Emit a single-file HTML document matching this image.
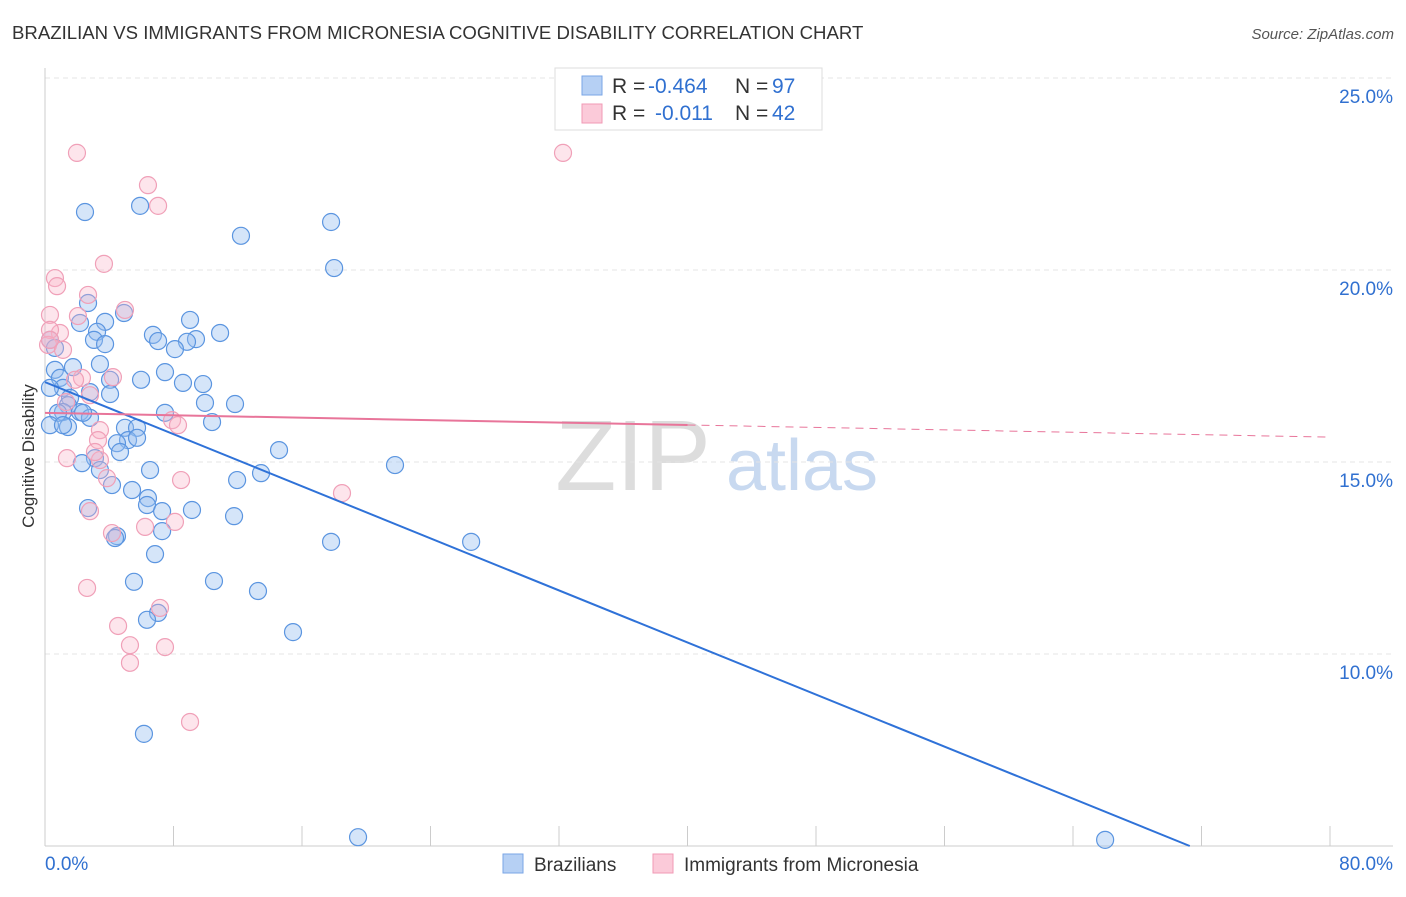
<!DOCTYPE html>
<html><head><meta charset="utf-8"><style>
body{margin:0;background:#fff;font-family:"Liberation Sans",sans-serif;}
svg text{font-family:"Liberation Sans",sans-serif;}
</style></head><body>
<svg id="chart" width="1406" height="892" viewBox="0 0 1406 892" xmlns="http://www.w3.org/2000/svg">
<text x="12" y="39" font-size="18.6" fill="#333">BRAZILIAN VS IMMIGRANTS FROM MICRONESIA COGNITIVE DISABILITY CORRELATION CHART</text>
<text x="1394" y="39" font-size="15" fill="#555" text-anchor="end" font-style="italic">Source: ZipAtlas.com</text>
<g>
<text x="633" y="490" font-size="100" fill="#ddd" text-anchor="middle" font-family="Liberation Serif, serif">ZIP</text>
<text x="802" y="490" font-size="72" fill="#c8d9f0" text-anchor="middle">atlas</text>
</g>
<g id="grid"></g>
<g id="axes"></g>
<g id="pts"></g>
<g id="lines"></g>
<text transform="translate(34,456) rotate(-90)" font-size="17" fill="#333" text-anchor="middle">Cognitive Disability</text>
<g>
<rect x="555" y="68" width="267" height="62" fill="#fff" stroke="#ddd"/>
<rect x="582" y="76" width="20" height="19" fill="#b6d0f4" stroke="#7aa6e6"/>
<rect x="582" y="104" width="20" height="19" fill="#fbcad9" stroke="#f09ab5"/>
<text x="612" y="93" font-size="21" fill="#333">R =</text>
<text x="648" y="93" font-size="21" fill="#3070d0">-0.464</text>
<text x="735" y="93" font-size="21" fill="#333">N =</text>
<text x="772" y="93" font-size="21" fill="#3070d0">97</text>
<text x="612" y="120" font-size="21" fill="#333">R =</text>
<text x="655" y="120" font-size="21" fill="#3070d0">-0.011</text>
<text x="735" y="120" font-size="21" fill="#333">N =</text>
<text x="772" y="120" font-size="21" fill="#3070d0">42</text>
</g>
<g>
<rect x="503" y="854" width="20" height="19" fill="#b6d0f4" stroke="#7aa6e6"/>
<text x="534" y="871" font-size="19" fill="#333">Brazilians</text>
<rect x="653" y="854" width="20" height="19" fill="#fbcad9" stroke="#f09ab5"/>
<text x="684" y="871" font-size="19" fill="#333">Immigrants from Micronesia</text>
</g>
</svg>
<script>
const xTicks=[0,80];
const yTicks=[10,15,20,25];
const blueX=[2.49,5.92,12.2,17.81,18.0,2.68,4.92,3.74,2.18,3.24,9.03,6.72,7.04,10.9,9.4,8.84,3.05,3.74,8.09,0.31,0.62,3.42,1.74,7.47,5.98,4.05,0.62,0.93,8.59,9.84,1.12,0.31,2.8,4.05,1.56,1.43,9.96,11.83,7.47,1.12,0.81,2.18,2.8,10.4,1.43,4.98,5.73,5.17,5.73,4.48,4.67,14.57,3.11,2.3,21.79,6.54,3.42,13.45,11.96,4.17,5.42,6.41,2.68,6.35,7.29,9.15,11.77,4.48,7.29,17.81,26.53,6.85,5.54,10.52,13.26,7.04,6.35,15.44,6.16,19.49,66.0,0.31,1.12,2.37,4.36];
const blueY=[21.51,21.67,20.89,21.25,20.05,19.14,18.88,18.65,18.62,18.39,18.7,18.31,18.15,18.36,18.2,18.13,18.18,18.07,17.94,18.18,17.97,17.55,17.47,17.34,17.14,17.14,17.4,17.19,17.06,17.03,16.93,16.93,16.82,16.77,16.67,16.48,16.54,16.51,16.28,16.3,16.28,16.3,16.15,16.04,15.91,15.89,15.89,15.57,15.63,15.49,15.26,15.31,15.1,14.97,14.92,14.79,14.79,14.71,14.53,14.4,14.27,14.06,13.8,13.88,13.72,13.75,13.59,13.07,13.2,12.92,12.92,12.6,11.88,11.9,11.64,11.07,10.89,10.57,7.92,5.23,5.16,15.96,15.96,16.28,13.02];
const pinkX=[1.99,32.25,6.41,7.04,3.67,0.62,0.75,2.68,4.98,0.31,2.05,0.93,0.31,0.19,1.12,2.3,4.23,1.87,2.8,1.31,3.42,3.3,7.91,3.42,1.37,8.47,18.49,3.86,2.8,8.09,6.23,4.17,2.62,4.55,7.16,5.29,5.29,7.47,9.03,0.31,3.11,8.28];
const pinkY=[23.05,23.05,22.21,21.67,20.16,19.79,19.58,19.35,18.96,18.83,18.8,18.36,18.44,18.05,17.92,17.19,17.21,17.14,16.74,16.56,15.83,15.57,16.09,15.05,15.1,14.53,14.19,14.58,13.72,13.44,13.31,13.15,11.72,10.73,11.2,10.23,9.77,10.18,8.23,18.18,15.26,15.96];
const blueTrend=[17.08,-0.1695]; // intercept, slope
const pinkTrend=[16.28,-0.0079];
const pinkSolidEnd=40;

const NS="http://www.w3.org/2000/svg";
const X=v=>45+v*(1285/80);
const Y=v=>1038-v*38.4;
function mk(tag,attrs,parent){const e=document.createElementNS(NS,tag);for(const k in attrs)e.setAttribute(k,attrs[k]);document.getElementById(parent).appendChild(e);return e;}
yTicks.forEach(t=>{
 const g=mk('line',{x1:45,x2:1393,y1:Y(t),y2:Y(t),stroke:'#e4e4e4','stroke-dasharray':'5,4'},'grid');
 
 
 const l=mk('text',{x:1393,y:Y(t)+25,'font-size':19,fill:'#3070d0','text-anchor':'end'},'grid');
 l.textContent=t.toFixed(1)+'%';
 
 
});
let a=mk('line',{x1:45,x2:45,y1:68,y2:846,stroke:'#ccc'},'axes');


a=mk('line',{x1:45,x2:1393,y1:846,y2:846,stroke:'#ccc'},'axes');


for(let i=0;i<=10;i++){const t=mk('line',{x1:X(i*8),x2:X(i*8),y1:826,y2:846,stroke:'#ccc'},'axes');
 
 }
xTicks.forEach((t,i)=>{const l=mk('text',{x:i==0?45:1393,y:870,'font-size':19,fill:'#3070d0','text-anchor':i==0?'start':'end'},'axes');
 l.textContent=t.toFixed(1)+'%';
 
 });
blueX.forEach((x,i)=>{const c=mk('circle',{cx:X(x),cy:Y(blueY[i]),r:8.5,fill:'rgba(150,190,240,0.4)',stroke:'#5b95e0','stroke-width':1.2},'pts');
 
 });
pinkX.forEach((x,i)=>{const c=mk('circle',{cx:X(x),cy:Y(pinkY[i]),r:8.5,fill:'rgba(248,180,200,0.35)',stroke:'#f0a0b8','stroke-width':1.2},'pts');
 
 });
const bEnd=(5-blueTrend[0])/blueTrend[1];
let t=mk('line',{x1:X(0),y1:Y(blueTrend[0]),x2:X(bEnd),y2:Y(5),stroke:'#2f72d8','stroke-width':2},'lines');


t=mk('line',{x1:X(0),y1:Y(pinkTrend[0]),x2:X(pinkSolidEnd),y2:Y(pinkTrend[0]+pinkTrend[1]*pinkSolidEnd),stroke:'#e8759a','stroke-width':2},'lines');


t=mk('line',{x1:X(pinkSolidEnd),y1:Y(pinkTrend[0]+pinkTrend[1]*pinkSolidEnd),x2:X(80),y2:Y(pinkTrend[0]+pinkTrend[1]*80),stroke:'#e8759a','stroke-width':1,'stroke-dasharray':'8,6'},'lines');


</script>
</body></html>
